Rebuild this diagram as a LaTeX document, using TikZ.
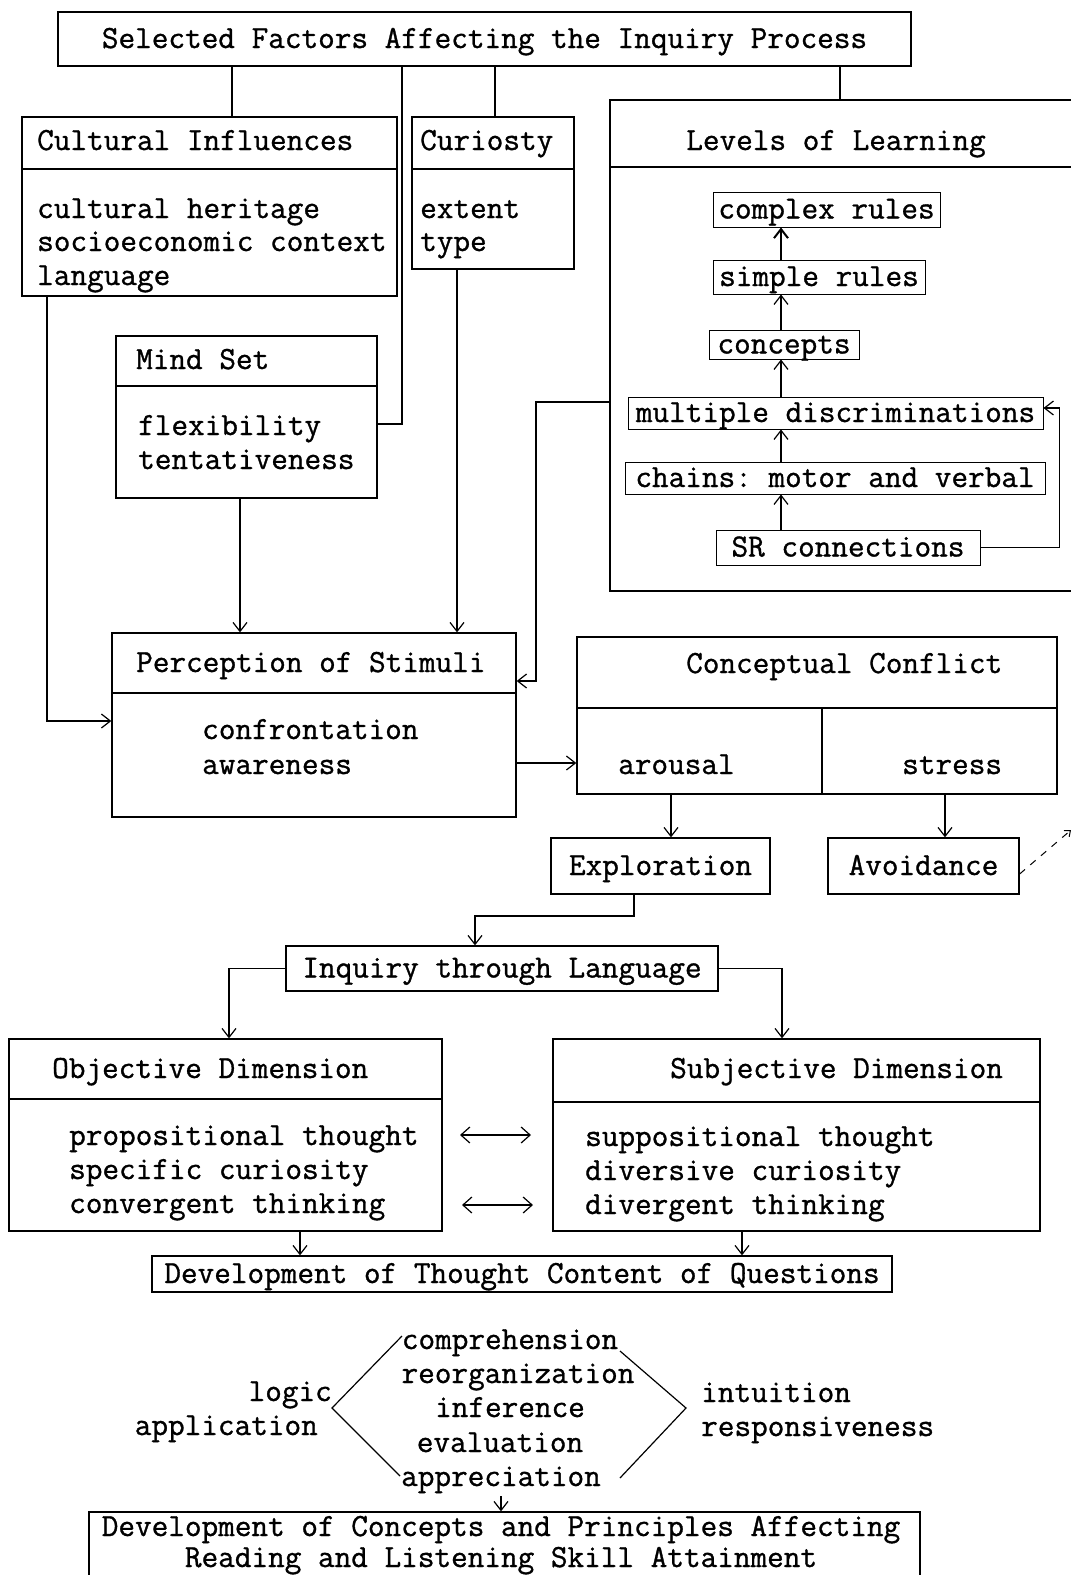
\documentclass[tikz,border=0pt]{standalone}
\usepackage{fontspec}
\setmonofont{Latin Modern Mono}[FakeBold=1]
\usetikzlibrary{arrows.meta}
\begin{document}
\begin{tikzpicture}[x=1pt,y=-1pt,
  every node/.style={font=\ttfamily\fontsize{32.3pt}{34pt}\selectfont, inner sep=0pt},
  box/.style={draw, line width=1.3pt, inner sep=0pt},
  tbox/.style={box, text height=21pt, text depth=3pt},
  ibox/.style={draw, line width=1pt, inner sep=0pt, text height=21pt, text depth=3pt},
  lbl/.style={anchor=base west, yshift=-2pt},
  ctr/.style={anchor=base, yshift=-2pt},
  ln/.style={line width=1.2pt},
  arr/.style={line width=1.2pt, -{Straight Barb[length=9pt,width=14pt]}},
  darr/.style={line width=1.2pt, {Straight Barb[length=9pt,width=16pt]}-{Straight Barb[length=9pt,width=16pt]}}]
\useasboundingbox (0,0) rectangle (1071,1575);

% title
\node[tbox, minimum width=853pt, minimum height=54pt] (title) at (484.5,39) {Selected Factors Affecting the Inquiry Process};

% cultural influences
\node[box, minimum width=375pt, minimum height=179pt] (cult) at (209.5,206.5) {};
\draw[ln] (cult.west |- 0,169) -- (cult.east |- 0,169);
\node[lbl] (cult-h) at (37,148) {Cultural Influences};
\node[lbl] (cult-1) at (37,216) {cultural heritage};
\node[lbl] (cult-2) at (37,249) {socioeconomic context};
\node[lbl] (cult-3) at (37,283) {language};

% curiosity
\node[box, minimum width=162pt, minimum height=152pt] (cur) at (493,193) {};
\draw[ln] (cur.west |- 0,169) -- (cur.east |- 0,169);
\node[lbl] (cur-h) at (420,148) {Curiosty};
\node[lbl] (cur-1) at (420,216) {extent};
\node[lbl] (cur-2) at (420,249) {type};

% levels of learning
\node[box, minimum width=480pt, minimum height=491pt] (lev) at (850,345.5) {};
\draw[ln] (lev.west |- 0,167) -- (lev.east |- 0,167);
\node[ctr] (lev-h) at (836,148) {Levels of Learning};
\node[ibox, minimum width=227pt, minimum height=35pt] (complex) at (826.5,209.5) {complex rules};
\node[ibox, minimum width=212pt, minimum height=34pt] (simple) at (819,277) {simple rules};
\node[ibox, minimum width=150pt, minimum height=29pt] (concepts) at (784,344.5) {concepts};
\node[ibox, minimum width=415pt, minimum height=32pt] (mult) at (835.5,413) {multiple discriminations};
\node[ibox, minimum width=420pt, minimum height=32pt] (chains) at (835,478) {chains: motor and verbal};
\node[ibox, minimum width=264pt, minimum height=35pt] (sr) at (848,547.5) {SR connections};
\coordinate (lx) at (781,0);
\draw[line width=2pt, -{Straight Barb[length=9pt,width=14pt]}] (simple.north -| lx) -- (complex.south -| lx);
\draw[arr] (concepts.north -| lx) -- (simple.south -| lx);
\draw[arr] (mult.north -| lx) -- (concepts.south -| lx);
\draw[arr] (chains.north -| lx) -- (mult.south -| lx);
\draw[arr] (sr.north -| lx) -- (chains.south -| lx);
\draw[arr] (sr.east) -- ++(79,0) |- (mult.east |- 0,408);

% mind set
\node[box, minimum width=261pt, minimum height=162pt] (mind) at (246.5,417) {};
\draw[ln] (mind.west |- 0,386) -- (mind.east |- 0,386);
\node[lbl] (mind-h) at (136,367) {Mind Set};
\node[lbl] (mind-1) at (138,433) {flexibility};
\node[lbl] (mind-2) at (138,467) {tentativeness};

% connectors from title
\draw[ln] (title.south -| 232,0) -- (cult.north -| 232,0);
\draw[ln] (title.south -| 495,0) -- (cur.north -| 495,0);
\draw[ln] (title.south -| 840,0) -- (lev.north -| 840,0);
\draw[ln] (title.south -| 402,0) |- (mind.east |- 0,424);

% perception
\node[box, minimum width=404pt, minimum height=184pt] (perc) at (314,725) {};
\draw[ln] (perc.west |- 0,693) -- (perc.east |- 0,693);
\node[lbl] (perc-h) at (136,670) {Perception of Stimuli};
\node[lbl] (perc-1) at (202,737) {confrontation};
\node[lbl] (perc-2) at (202,772) {awareness};

\draw[arr] (cult.south -| 47,0) |- (perc.west |- 0,721);
\draw[arr] (mind.south -| 240,0) -- (perc.north -| 240,0);
\draw[arr] (cur.south -| 457,0) -- (perc.north -| 457,0);
\draw[arr] (lev.west |- 0,402) -| (536,681) -- (perc.east |- 0,681);

% conceptual conflict
\node[box, minimum width=480pt, minimum height=157pt] (conf) at (817,715.5) {};
\draw[ln] (conf.west |- 0,708) -- (conf.east |- 0,708);
\draw[ln] (822,708) -- (conf.south -| 822,0);
\node[lbl] (conf-h) at (686,671) {Conceptual Conflict};
\node[lbl] (arousal) at (618,772) {arousal};
\node[lbl] (stress) at (902,772) {stress};
\draw[arr] (perc.east |- 0,763) -- (conf.west |- 0,763);

% exploration / avoidance
\node[tbox, minimum width=219pt, minimum height=56pt] (expl) at (660.5,866) {Exploration};
\node[tbox, minimum width=191pt, minimum height=56pt] (avoid) at (923.5,866) {Avoidance};
\draw[arr] (conf.south -| 671,0) -- (expl.north -| 671,0);
\draw[arr] (conf.south -| 945,0) -- (avoid.north -| 945,0);
\coordinate (dashend) at (1071,830);
\draw[line width=1pt, dash pattern=on 7pt off 7pt, -{Straight Barb[length=5pt,width=8pt]}] (avoid.east |- 0,874) -- (dashend);

% inquiry through language
\node[tbox, minimum width=432pt, minimum height=45pt] (inq) at (502,968.5) {Inquiry through Language};
\draw[arr] (expl.south -| 634,0) |- (475,916) -- (inq.north -| 475,0);

% objective / subjective
\node[box, minimum width=433pt, minimum height=192pt] (obj) at (225.5,1135) {};
\draw[ln] (obj.west |- 0,1099) -- (obj.east |- 0,1099);
\node[lbl] (obj-h) at (52,1076) {Objective Dimension};
\node[lbl] (obj-1) at (69,1143) {propositional thought};
\node[lbl] (obj-2) at (69,1177) {specific curiosity};
\node[lbl] (obj-3) at (69,1211) {convergent thinking};

\node[box, minimum width=487pt, minimum height=192pt] (subj) at (796.5,1135) {};
\draw[ln] (subj.west |- 0,1102) -- (subj.east |- 0,1102);
\node[lbl] (subj-h) at (670,1076) {Subjective Dimension};
\node[lbl] (subj-1) at (585,1144) {suppositional thought};
\node[lbl] (subj-2) at (585,1178) {diversive curiosity};
\node[lbl] (subj-3) at (585,1212) {divergent thinking};

\draw[arr] (inq.west) -| (obj.north -| 229,0);
\draw[arr] (inq.east) -| (subj.north -| 782,0);

\coordinate (da1) at (460,1135);
\coordinate (da2) at (531,1135);
\coordinate (db1) at (462,1205);
\coordinate (db2) at (533,1205);
\draw[darr] (da1) -- (da2);
\draw[darr] (db1) -- (db2);

% development of thought content
\node[tbox, minimum width=740pt, minimum height=36pt] (dev) at (522,1274) {Development of Thought Content of Questions};
\draw[arr] (obj.south -| 300,0) -- (dev.north -| 300,0);
\draw[arr] (subj.south -| 742,0) -- (dev.north -| 742,0);

% hexagon of question types
\node[ctr] (comp) at (510,1347) {comprehension};
\node[ctr] (reorg) at (518,1381) {reorganization};
\node[ctr] (infer) at (510,1415) {inference};
\node[ctr] (eval) at (500,1450) {evaluation};
\node[ctr] (appr) at (501,1484) {appreciation};
\node[anchor=base east, yshift=-2pt] (logic) at (332,1399) {logic};
\node[anchor=base east, yshift=-2pt] (appl) at (318,1433) {application};
\node[lbl] (intu) at (701,1400) {intuition};
\node[lbl] (resp) at (701,1434) {responsiveness};
\draw[ln] (402,1336) -- (332,1408) -- (400,1476);
\draw[ln] (620,1351) -- (686,1408) -- (620,1478);

% final box
\node[box, minimum width=831pt, minimum height=88pt] (final) at (504.5,1556) {};
\node[anchor=base] (fin-1) at (501,1536) {Development of Concepts and Principles Affecting};
\node[anchor=base] (fin-2) at (501,1567) {Reading and Listening Skill Attainment};
\draw[arr] (appr.south) ++(0,3) -- (final.north -| appr.south);
\end{tikzpicture}
\end{document}
